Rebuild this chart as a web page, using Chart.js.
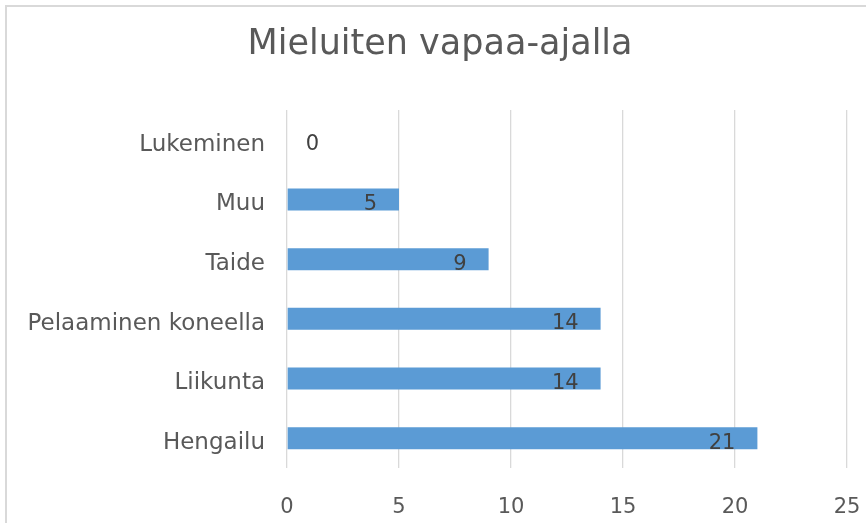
<!DOCTYPE html>
<html>
<head>
<meta charset="utf-8">
<script src="https://cdn.jsdelivr.net/npm/chart.js@4.4.1/dist/chart.umd.min.js"></script>
<style>
  html, body { margin: 0; padding: 0; background: #fff; overflow: hidden; }
  #frame { position: absolute; left: 5px; top: 5px; width: 1000px; height: 1000px; border: 2px solid #d9d9d9; box-sizing: border-box; }
  #wrap { position: absolute; left: 0; top: 0; width: 866px; height: 523px; }
</style>
</head>
<body>
<div id="frame"></div>
<div id="wrap"><canvas id="chart"></canvas></div>
<script>
(function(){

  const categories = ['Lukeminen', 'Muu', 'Taide', 'Pelaaminen koneella', 'Liikunta', 'Hengailu'];
  const values = [0, 5, 9, 14, 14, 21];
  const xTicks = [0, 5, 10, 15, 20, 25];
  const title = 'Mieluiten vapaa-ajalla';

  const FONT = '"DejaVu Sans", sans-serif';

  // value labels near the end of each bar, like excel "inside end"
  const barLabels = {
    id: 'barLabels',
    afterDatasetsDraw(chart) {
      const ctx = chart.ctx;
      const meta = chart.getDatasetMeta(0);
      ctx.save();
      ctx.font = '21px ' + FONT;
      ctx.fillStyle = '#404040';
      ctx.textAlign = 'right';
      ctx.textBaseline = 'middle';
      meta.data.forEach((bar, i) => {
        const x = Math.max(bar.x - 22, bar.base + 32);
        ctx.fillText(String(values[i]), x, bar.y + 5);
      });
      ctx.restore();
    }
  };

  new Chart(document.getElementById('chart'), {
    type: 'bar',
    data: {
      labels: categories,
      datasets: [{
        data: values,
        backgroundColor: '#5b9bd5',
        categoryPercentage: 0.74,
        barPercentage: 0.5
      }]
    },
    plugins: [barLabels],
    options: {
      indexAxis: 'y',
      responsive: true,
      maintainAspectRatio: false,
      animation: false,
      layout: { padding: { left: 14, right: 0, top: 0, bottom: 0 } },
      plugins: {
        legend: { display: false },
        tooltip: { enabled: false },
        title: {
          display: true,
          text: title,
          color: '#595959',
          font: { family: FONT, size: 35, weight: 'normal' },
          padding: { top: 24, bottom: 44 }
        }
      },
      scales: {
        x: {
          min: 0,
          max: 25,
          afterBuildTicks: (axis) => { axis.ticks = xTicks.map(v => ({ value: v })); },
          afterFit: (axis) => { axis.height = 55; axis.paddingRight = 19; axis.paddingLeft = 0; },
          grid: { color: '#d9d9d9', lineWidth: 1.3, drawTicks: false },
          border: { display: false },
          ticks: { color: '#595959', padding: 27, font: { family: FONT, size: 21 } }
        },
        y: {
          afterFit: (axis) => { axis.width = 273; },
          grid: { display: false, drawTicks: false },
          border: { display: false },
          ticks: { color: '#595959', padding: 22, labelOffset: 5, font: { family: FONT, size: 23 } }
        }
      }
    }
  });
})();
</script>
</body>
</html>
